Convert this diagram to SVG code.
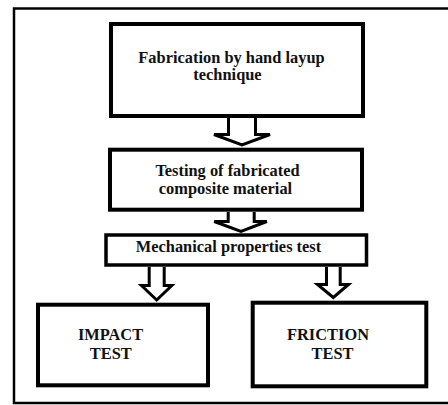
<svg xmlns="http://www.w3.org/2000/svg" width="448" height="405" viewBox="0 0 448 405">
<style>
.box{fill:#fff;stroke:#000;stroke-width:4}
.arr{fill:#fff;stroke:#000;stroke-width:3;stroke-linejoin:miter}
.t{font-family:"Liberation Serif","Times New Roman",serif;font-weight:bold;font-size:16.4px;fill:#111;text-anchor:middle}
</style>
<rect x="0" y="0" width="448" height="405" fill="#fff"/>
<rect id="frame" x="14" y="8.5" width="440" height="394.5" fill="none" stroke="#000" stroke-width="2.5"/>
<g id="connectors">
<path class="arr" d="M228.5,118 V134.5 H214 L242,145 L270,134.5 H255.5 V118"/>
<path class="arr" d="M228.2,212 V221.5 H214.2 L241,231.5 L266.8,221.5 H254.2 V212"/>
<path class="arr" d="M149.2,267 V285.5 H141.5 L156.7,300 L171.8,285.5 H164.2 V267"/>
<path class="arr" d="M326.5,267 V284.5 H317.5 L333.3,297.5 L348.5,284.5 H340.2 V267"/>
</g>
<g id="n1">
<rect class="box" x="111" y="24" width="252" height="92"/>
<text class="t" x="231.5" y="62.5">Fabrication by hand layup</text>
<text class="t" x="227.5" y="80">technique</text>
</g>
<g id="n2">
<rect class="box" x="110" y="149.7" width="252" height="60"/>
<text class="t" x="227.5" y="175.5">Testing of fabricated</text>
<text class="t" x="225.5" y="193.5">composite material</text>
</g>
<g id="n3">
<rect class="box" x="106" y="235" width="260.5" height="30" style="stroke-width:3.5"/>
<text class="t" x="228.5" y="252">Mechanical properties test</text>
</g>
<g id="n4">
<rect class="box" x="38" y="304.7" width="170" height="80.6"/>
<text class="t" x="110.5" y="339.5">IMPACT</text>
<text class="t" x="110.8" y="358.5">TEST</text>
</g>
<g id="n5">
<rect class="box" x="252.7" y="302.7" width="173.6" height="83.6"/>
<text class="t" x="328" y="340">FRICTION</text>
<text class="t" x="332.5" y="359">TEST</text>
</g>
</svg>
